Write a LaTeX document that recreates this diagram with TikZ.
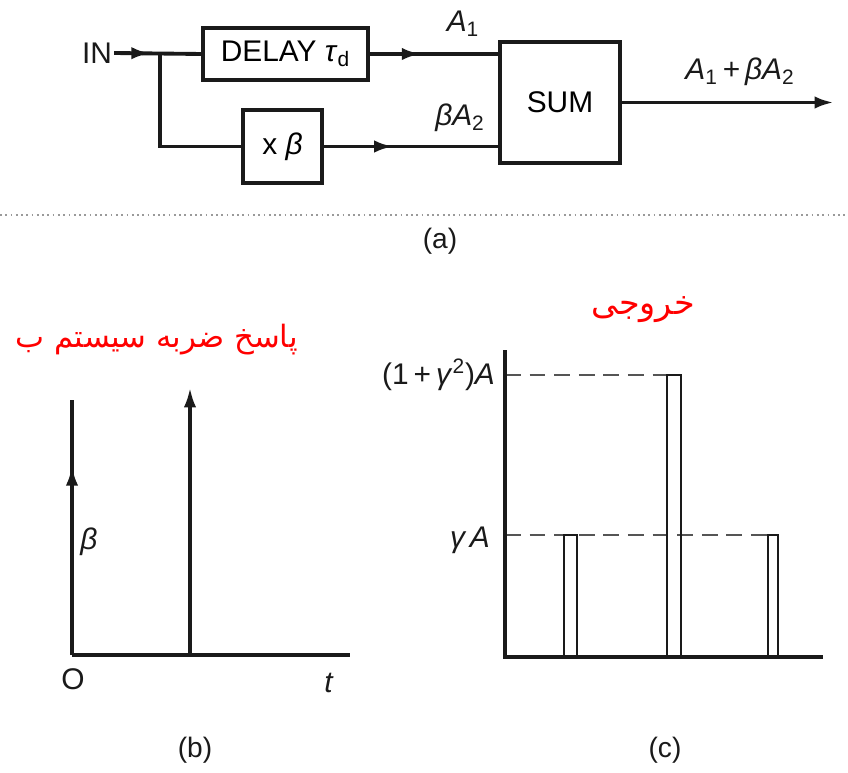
\documentclass[tikz,border=0pt]{standalone}
\usepackage{fontspec}
\setmainfont{Liberation Sans}
\newfontfamily\farsi[Script=Arabic]{DejaVu Sans}
\TeXXeTstate=1
\usepackage{tikz}
\usetikzlibrary{arrows.meta, decorations.markings, positioning}
\definecolor{ink}{HTML}{1A1A1A}
\definecolor{dashgray}{HTML}{555555}
\definecolor{scangray}{HTML}{9A9A9A}
\definecolor{farsired}{HTML}{FF0000}

\begin{document}
\begin{tikzpicture}[
  x=0.02cm, y=-0.02cm,
  blk/.style    = {draw=ink, line width=2pt, inner sep=0pt,
                   font=\fontsize{17}{19}\selectfont},
  lbl/.style    = {text=ink, inner sep=1pt, font=\fontsize{17}{19}\selectfont},
  caption/.style= {text=ink, font=\fontsize{16}{18}\selectfont},
  wire/.style   = {draw=ink, line width=2.2pt},
  tip/.style    = {-{Latex[length=11pt, width=7pt]}},
  midarr/.style = {postaction=decorate, decoration={markings,
                   mark=at position #1 with {\arrow{Latex[length=11pt, width=7pt]}}}},
  axis/.style   = {draw=ink, line width=1.8pt},
  pulse/.style  = {draw=ink, line width=1.6pt},
  guide/.style  = {draw=dashgray, line width=1.2pt, dash pattern=on 9pt off 5pt},
  persian/.style= {text=farsired, inner sep=1pt, font=\fontsize{19}{23}\farsi}
]
\useasboundingbox (0,0) rectangle (848,773);

% ── (a) BLOCK DIAGRAM ───────────────────────────────────
\node[lbl] (in) at (97,53) {IN};
\node[blk, minimum width=3.3cm, minimum height=1.04cm] (delay) at (285.5,54)
     {DELAY \textit{τ}\textsubscript{d}};
\node[blk, minimum width=1.58cm, minimum height=1.46cm] (beta) at (282.5,146.5)
     {x \textit{β}};
\node[blk, minimum width=2.4cm, minimum height=2.42cm] (sum) at (560,102.5) {SUM};
\coordinate (split) at (delay.west -| 160,0);
\coordinate (out) at (834,102.5);

\draw[wire, midarr=0.42] (in.east) -- (delay.west);
\draw[wire] (split) |- (beta.west);
\draw[wire, midarr=0.4] (delay.east) -- (delay.east -| sum.west);
\draw[wire, midarr=0.4] (beta.east) -- (beta.east -| sum.west);
\draw[wire, tip] (sum.east) -- (out);

\node[lbl] (a1)  at (463,24)  {\textit{A}\textsubscript{1}};
\node[lbl] (ba2) at (460,118) {\textit{βA}\textsubscript{2}};
\node[lbl] (sumout) at (740,72)
     {\textit{A}\textsubscript{1}\,+\,\textit{βA}\textsubscript{2}};

\draw[scangray, line width=1pt, dotted] (0,215) -- (848,215);
\node[caption] (capa) at (440,241) {(a)};

% ── (b) IMPULSE RESPONSE ────────────────────────────────
\node[persian, anchor=east, font=\fontsize{17.5}{21}\farsi] (resp) at (300,340)
     {\beginR پاسخ ضربه سیستم ب\endR};
\coordinate (ob) at (72,655);
\coordinate (tb) at (350,655);
\coordinate (d0) at (72,400);
\coordinate (d1) at (190,388);

\draw[axis] (ob) -- (tb);
\draw[axis, midarr=0.74] (ob) -- (d0);
\draw[axis, tip] (ob -| d1) -- (d1);

\node[lbl] (bl) at (89,542) {\textit{β}};
\node[lbl] (zero) at (73,679) {O};
\node[lbl] (tl) at (329,683) {\textit{t}};
\node[caption] (capb) at (195,750) {(b)};

% ── (c) OUTPUT ──────────────────────────────────────────
\node[persian] (outp) at (643,310) {\beginR خروجی\endR};
\coordinate (oc) at (505,657);
\coordinate (hi) at (674,375);
\coordinate (lo) at (773,535);

\draw[guide] (oc |- hi) -- (667,375);
\draw[guide] (oc |- lo) -- (768,535);
\draw[axis] (505,350) -- (oc) -- (823,657);
\draw[pulse] (564,657) |- (577,535) -- (577,657);
\draw[pulse] (667,657) |- (681,375) -- (681,657);
\draw[pulse] (768,657) |- (778,535) -- (778,657);

\node[lbl, anchor=east] (yhi) at (497,375)
     {(1\,+\,\textit{γ}\textsuperscript{2})\textit{A}};
\node[lbl, anchor=east] (ylo) at (492,540) {\textit{γ\,A}};
\node[caption] (capc) at (665,750) {(c)};

\end{tikzpicture}
\end{document}
